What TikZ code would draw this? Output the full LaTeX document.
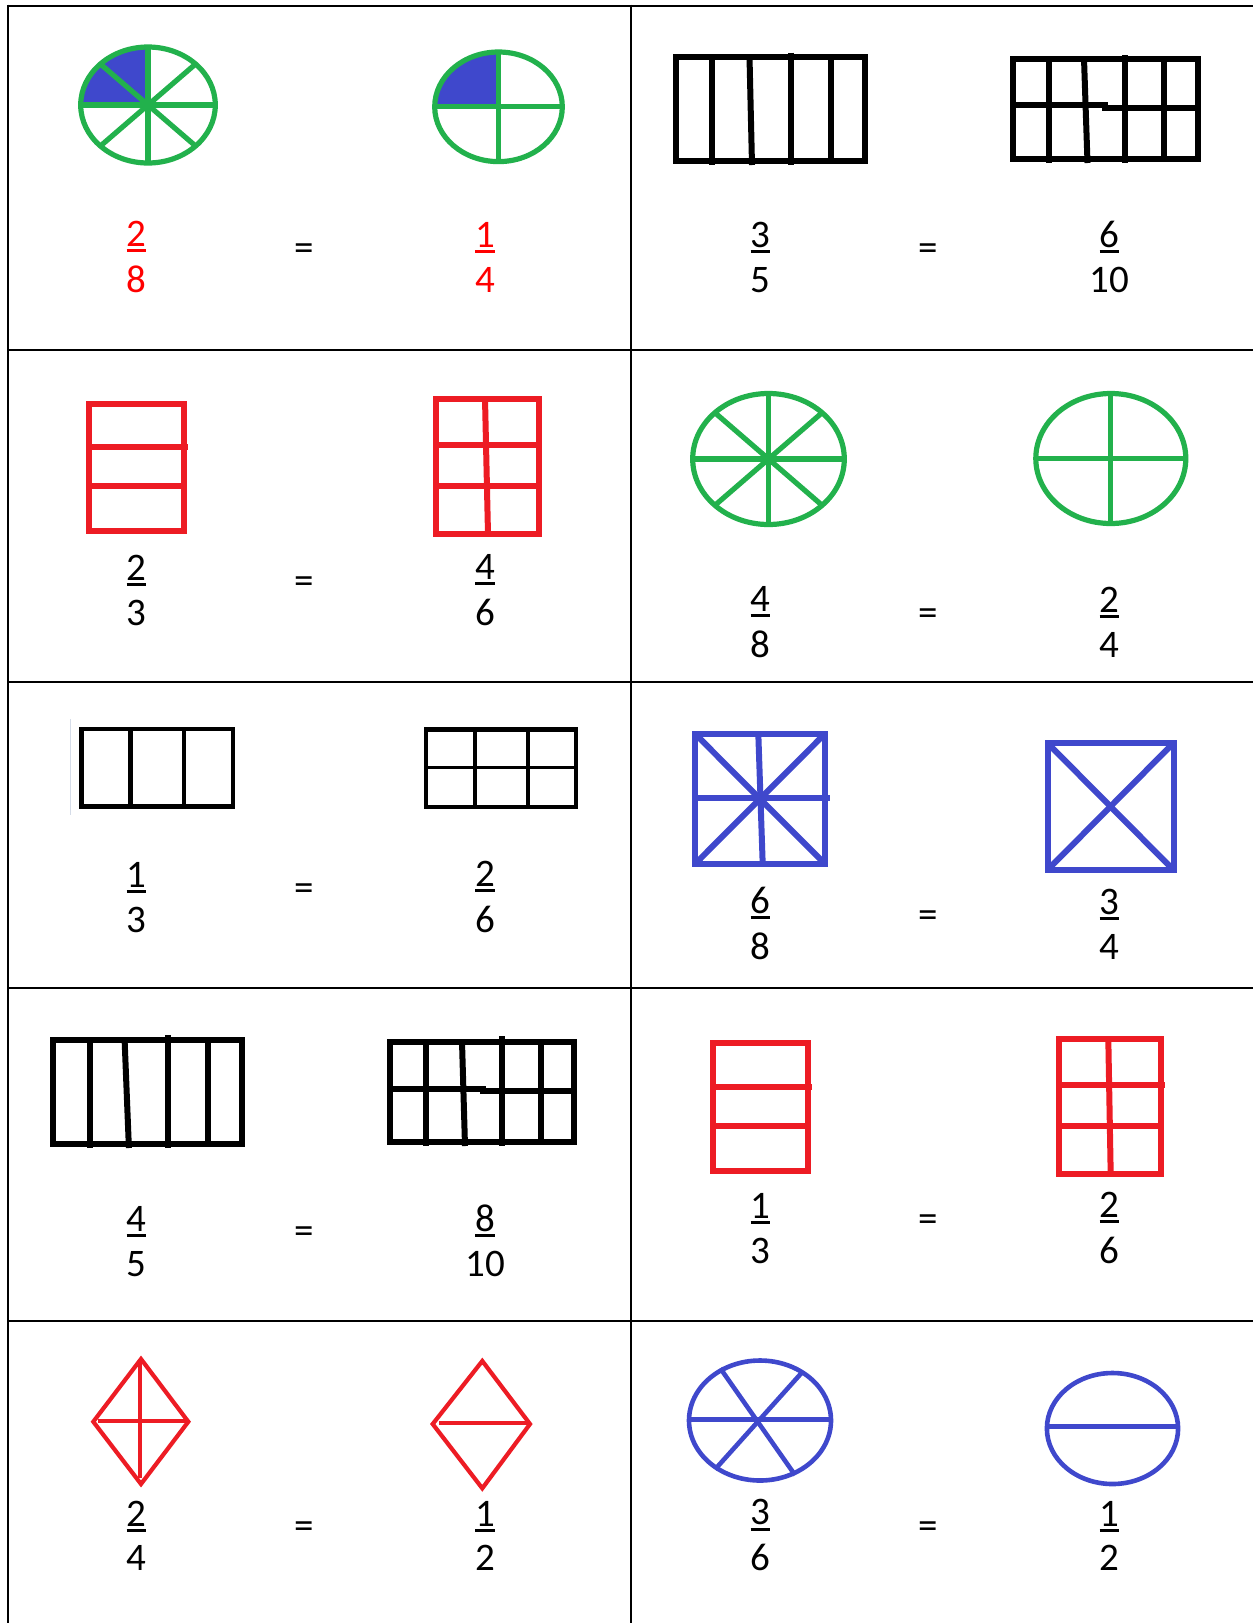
\documentclass[tikz,border=0pt]{standalone}
\usepackage{fontspec}
\setmainfont{Carlito}
\usepackage{tikz}
\definecolor{pgreen}{HTML}{22B14C}
\definecolor{pblue}{HTML}{3F48CC}
\definecolor{pred}{HTML}{ED1C24}
\newcommand{\ufrac}[2]{\setbox0=\hbox{#1}\vbox{\offinterlineskip\halign{\hfil##\hfil\cr\copy0\cr\noalign{\kern2.5pt}\vrule width\wd0 height3pt depth0pt\cr\noalign{\kern13.5pt}#2\cr}}}

\begin{document}
\begin{tikzpicture}[x=1pt, y=-1pt,
            cell/.style={line width=2pt},
            blk/.style={line width=6pt},
            grn/.style={draw=pgreen, line width=5.2pt},
            blu/.style={draw=pblue, line width=6pt},
            bluthin/.style={draw=pblue, line width=4.6pt},
            rd/.style={draw=pred, line width=6pt},
            rdthin/.style={draw=pred, line width=4.2pt},
            frac/.style={anchor=base, inner sep=0pt, font=\fontsize{39}{46}\selectfont},
            eq/.style={anchor=base, inner sep=0pt, font=\fontsize{39}{46}\selectfont}]
            \useasboundingbox (0,0) rectangle (1253,1623);
            \fill[white] (0,0) rectangle (1253,1623);

            \draw[cell] (8.3,5.7) -- (1253,5.7);
            \draw[cell] (8.3,4.7) -- (8.3,1623);
            \draw[cell] (631.2,4.7) -- (631.2,1623);
            \foreach \y in {349.7,681.9,988.1,1321.3}
                \draw[cell] (8.3,\y) -- (1253,\y);

            \fill[pblue] (148,105) -- +(180:67.3 and 58) arc[start angle=180, end angle=270, x radius=67.3, y radius=58] -- cycle;
            \draw[grn] (148,105) ellipse (67.3 and 58);
            \foreach \a in {0,45,90,135}
                \draw[grn] (148,105) +(\a:67.3 and 58) -- +(\a+180:67.3 and 58);
            \fill[pblue] (498.5,106.8) -- +(180:63.8 and 54.8) arc[start angle=180, end angle=270, x radius=63.8, y radius=54.8] -- cycle;
            \draw[grn] (498.5,106.8) ellipse (63.8 and 54.8);
            \foreach \a in {0,90}
                \draw[grn] (498.5,106.8) +(\a:63.8 and 54.8) -- +(\a+180:63.8 and 54.8);
            \node[frac, red] (fr1a) at (136.6,292) {\ufrac{2}{8}};
            \node[eq] (eq1a) at (304.2,260) {=};
            \node[frac, red] (fr1b) at (485.3,292) {\ufrac{1}{4}};

            \draw[blk] (675.7,56.8) rectangle (864.6,160.5);
            \draw[blk] (712,56.8) -- (712,165);
            \draw[blk] (749.5,56.8) -- (752,165);
            \draw[blk] (791,52.7) -- (791,165);
            \draw[blk] (830.5,56.8) -- (830.5,160.5);
            \draw[blk] (1013.2,58.5) rectangle (1197.5,158.5);
            \draw[blk] (1049.3,58.5) -- (1049.3,163);
            \draw[blk] (1084,58.5) -- (1087.5,163);
            \draw[blk] (1125,55) -- (1125,163);
            \draw[blk] (1164.3,58.5) -- (1164.3,158.5);
            \draw[blk] (1013.2,105) -- (1105,105) -- (1105,107.5) -- (1197.5,107.5);
            \node[frac] (fr1c) at (760.5,292) {\ufrac{3}{5}};
            \node[eq] (eq1c) at (928,260) {=};
            \node[frac] (fr1d) at (1109.5,292) {\ufrac{6}{10}};

            \draw[rd] (89.2,404.2) rectangle (184.2,530.8);
            \draw[rd] (89.2,447.3) -- (187.7,447.3);
            \draw[rd] (89.2,486) -- (184.2,486);
            \draw[rd] (435.8,398.5) rectangle (538.5,534.2);
            \draw[rd] (485,398.5) -- (488,534.2);
            \draw[rd] (435.8,445) -- (541.7,445);
            \draw[rd] (435.8,486) -- (538.5,486);
            \node[frac] (fr2a) at (136.6,625) {\ufrac{2}{3}};
            \node[eq] (eq2a) at (304.2,593) {=};
            \node[frac] (fr2b) at (485.3,625) {\ufrac{4}{6}};

            \draw[grn] (768.5,459) ellipse (75.8 and 65.5);
            \foreach \a in {0,45,90,135}
                \draw[grn] (768.5,459) +(\a:75.8 and 65.5) -- +(\a+180:75.8 and 65.5);
            \draw[grn] (1110.8,458.5) ellipse (75 and 65);
            \foreach \a in {0,90}
                \draw[grn] (1110.8,458.5) +(\a:75 and 65) -- +(\a+180:75 and 65);
            \node[frac] (fr2c) at (760.5,657) {\ufrac{4}{8}};
            \node[eq] (eq2c) at (928,625) {=};
            \node[frac] (fr2d) at (1109.5,657) {\ufrac{2}{4}};

            \draw[draw={rgb,255:red,213;green,220;blue,232}, line width=1.2pt] (70.4,719) -- (70.4,815);
            \draw[line width=4.8pt] (81.5,729) rectangle (233,806.5);
            \foreach \x in {130.8,184}
                \draw[line width=4.8pt] (\x,729) -- (\x,806.5);
            \draw[line width=4.5pt] (426,729.5) rectangle (576,807);
            \foreach \x in {475,528}
                \draw[line width=4.5pt] (\x,729.5) -- (\x,807);
            \draw[line width=3.6pt] (426,767.5) -- (576,767.5);
            \node[frac] (fr3a) at (136.6,932) {\ufrac{1}{3}};
            \node[eq] (eq3a) at (304.2,900) {=};
            \node[frac] (fr3b) at (485.3,932) {\ufrac{2}{6}};

            \draw[blu] (694.8,733.5) rectangle (825.2,864.2);
            \draw[blu] (694.8,733.5) -- (825.2,864.2);
            \draw[blu] (825.2,733.5) -- (694.8,864.2);
            \draw[blu] (758.3,733.5) -- (762.7,864.2);
            \draw[blu] (694.8,797.7) -- (830,797.7);
            \draw[blu] (1047.5,743) rectangle (1173.5,870);
            \draw[blu] (1047.5,743) -- (1173.5,870);
            \draw[blu] (1173.5,743) -- (1047.5,870);
            \node[frac] (fr3c) at (760.5,959) {\ufrac{6}{8}};
            \node[eq] (eq3c) at (928,927) {=};
            \node[frac] (fr3d) at (1109.5,959) {\ufrac{3}{4}};

            \draw[blk] (52.5,1039.8) rectangle (241.8,1143.5);
            \draw[blk] (89.6,1039.8) -- (89.6,1148);
            \draw[blk] (124.6,1039.8) -- (128.9,1148);
            \draw[blk] (167.5,1035) -- (167.5,1148);
            \draw[blk] (207.5,1039.8) -- (207.5,1143.5);
            \draw[blk] (390.4,1041.5) rectangle (573.9,1141.8);
            \draw[blk] (426.4,1041.5) -- (426.4,1146);
            \draw[blk] (462,1041.5) -- (465,1146);
            \draw[blk] (502,1036) -- (502,1146);
            \draw[blk] (540.7,1041.5) -- (540.7,1141.8);
            \draw[blk] (390.4,1089) -- (482.9,1089) -- (482.9,1090.5) -- (573.9,1090.5);
            \node[frac] (fr4a) at (136.6,1276) {\ufrac{4}{5}};
            \node[eq] (eq4a) at (304.2,1243.3) {=};
            \node[frac] (fr4b) at (485.3,1276) {\ufrac{8}{10}};

            \draw[rd] (712.5,1043.2) rectangle (808.2,1170.8);
            \draw[rd] (712.5,1086.7) -- (811.7,1086.7);
            \draw[rd] (712.5,1125.7) -- (808.2,1125.7);
            \draw[rd] (1059.2,1038.5) rectangle (1160.8,1174.2);
            \draw[rd] (1108.3,1038.5) -- (1110.7,1174.2);
            \draw[rd] (1059.2,1085.3) -- (1165,1085.3);
            \draw[rd] (1059.2,1126.3) -- (1160.8,1126.3);
            \node[frac] (fr4c) at (760.5,1263) {\ufrac{1}{3}};
            \node[eq] (eq4c) at (928,1231) {=};
            \node[frac] (fr4d) at (1109.5,1263) {\ufrac{2}{6}};

            \draw[rdthin] (141,1359) -- (188.3,1421.7) -- (141,1484) -- (93.3,1421.7) -- cycle;
            \draw[rdthin] (140,1359) -- (140,1478);
            \draw[rdthin] (98.3,1421) -- (188.3,1421);
            \draw[rdthin] (482.3,1361) -- (530,1424) -- (482.3,1488.3) -- (432.7,1424) -- cycle;
            \draw[rdthin] (439.3,1423.3) -- (530,1423.3);
            \node[frac] (fr5a) at (136.6,1570.5) {\ufrac{2}{4}};
            \node[eq] (eq5a) at (304.2,1538.2) {=};
            \node[frac] (fr5b) at (485.3,1570.5) {\ufrac{1}{2}};

            \draw[bluthin] (760,1420.5) ellipse (71 and 60);
            \draw[bluthin] (688,1419.3) -- (832,1419.3);
            \draw[bluthin] (720.3,1368.3) -- (795,1475);
            \draw[bluthin] (801.2,1373.3) -- (715.1,1469.3);
            \draw[bluthin] (1112.5,1428.5) ellipse (65.6 and 55.5);
            \draw[bluthin] (1047,1426.7) -- (1178,1426.7);
            \node[frac] (fr5c) at (760.5,1570.5) {\ufrac{3}{6}};
            \node[eq] (eq5c) at (928,1538.2) {=};
            \node[frac] (fr5d) at (1109.5,1570.5) {\ufrac{1}{2}};
        \end{tikzpicture}
\end{document}
